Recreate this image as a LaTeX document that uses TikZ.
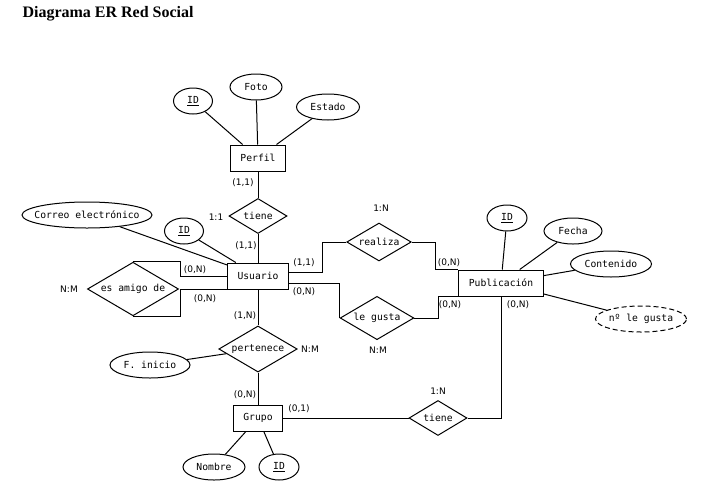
\documentclass[tikz,border=0pt]{standalone}
\usepackage{fontspec}
\setmainfont{Liberation Serif}
\setmonofont{DejaVu Sans Mono}
\newfontfamily\cardfont{DejaVu Sans}
\usetikzlibrary{shapes.geometric,calc}

\begin{document}
\begin{tikzpicture}[x=1pt,y=-1pt,line width=1pt,
  entity/.style={draw,rectangle,inner xsep=10pt,minimum height=26pt,
    font=\ttfamily\fontsize{9.7}{11}\selectfont},
  relation/.style={draw,diamond,aspect=1.7,inner sep=2pt,minimum width=58pt,minimum height=35pt,
    font=\ttfamily\fontsize{9.7}{11}\selectfont},
  attr/.style={draw,ellipse,inner sep=0pt,minimum height=26pt,minimum width=#1pt,
    font=\ttfamily\fontsize{9.7}{11}\selectfont},
  card/.style={inner sep=0pt,font=\cardfont\fontsize{9}{10}\selectfont}]
\useasboundingbox (0,0) rectangle (719,501);
\node[anchor=base west,inner sep=0pt,font=\bfseries\fontsize{16}{18}\selectfont] (title) at (22,17) {Diagrama ER Red Social};

% entities
\node[entity] (perfil) at (258,158) {Perfil};
\node[entity] (usuario) at (258,276) {Usuario};
\node[entity] (publicacion) at (501,283) {Publicación};
\node[entity] (grupo) at (258,418) {Grupo};

% relationships
\node[relation] (tiene) at (258,216) {tiene};
\node[relation] (realiza) at (379,242) {realiza};
\node[relation] (legusta) at (377,318) {le gusta};
\node[relation] (amigo) at (133,289) {es amigo de};
\node[relation] (pertenece) at (258,349) {pertenece};
\node[relation] (tienegrupo) at (438,418) {tiene};

% attributes
\node[attr=39] (idperfil) at (193,101) {\underline{ID}};
\node[attr=52] (foto) at (256,87) {Foto};
\node[attr=63] (estado) at (328,107) {Estado};
\node[attr=130,inner xsep=-8pt] (correo) at (87,215) {Correo electrónico};
\node[attr=39] (idusuario) at (184,231) {\underline{ID}};
\node[attr=40] (idpub) at (507,218) {\underline{ID}};
\node[attr=58] (fecha) at (573,231) {Fecha};
\node[attr=81] (contenido) at (611,264) {Contenido};
\node[attr=91,dash pattern=on 5pt off 3pt] (numlikes) at (641,319) {nº le gusta};
\node[attr=80] (inicio) at (150,365) {F. inicio};
\node[attr=62] (nombre) at (214,467) {Nombre};
\node[attr=40] (idgrupo) at (279,467) {\underline{ID}};

% attribute lines
\draw (perfil) -- (idperfil);
\draw (perfil) -- (foto);
\draw (perfil) -- (estado);
\draw (usuario) -- (correo);
\draw (usuario) -- (idusuario);
\draw (publicacion) -- (idpub);
\draw (publicacion) -- (fecha);
\draw (publicacion) -- (contenido);
\draw (publicacion) -- (numlikes);
\draw (pertenece) -- (inicio);
\draw (grupo) -- (nombre);
\draw (grupo) -- (idgrupo);

% relationship lines
\draw (perfil) -- (tiene) -- (usuario);
\draw (usuario) -- (pertenece) -- (grupo);
\draw ($(usuario.east)+(0,-4)$) -- ++(34,0) |- (realiza.west);
\draw (realiza.east) -- ++(24,0) |- (publicacion.north west);
\draw ($(usuario.east)+(0,7)$) -| (legusta.west);
\draw (legusta.east) -- ++(24,0) |- (publicacion.south west);
\draw (usuario.west) -- ++(-47,0) |- (amigo.north);
\draw (usuario.south west) -- ++(-47,0) |- (amigo.south);
\draw (grupo) -- (tienegrupo);
\draw (tienegrupo.east) -| (publicacion.south);

% cardinalities
\node[card] (c1) at (243,183) {(1,1)};
\node[card] (c2) at (216,217) {1:1};
\node[card] (c3) at (246,246) {(1,1)};
\node[card] (c4) at (195,270) {(0,N)};
\node[card] (c5) at (205,299) {(0,N)};
\node[card] (c6) at (69,289) {N:M};
\node[card] (c7) at (304,263) {(1,1)};
\node[card] (c8) at (304,292) {(0,N)};
\node[card] (c9) at (245,316) {(1,N)};
\node[card] (c10) at (381,208) {1:N};
\node[card] (c11) at (449,263) {(0,N)};
\node[card] (c12) at (450,305) {(0,N)};
\node[card] (c13) at (518,305) {(0,N)};
\node[card] (c14) at (378,350) {N:M};
\node[card] (c15) at (310,349) {N:M};
\node[card] (c16) at (245,395) {(0,N)};
\node[card] (c17) at (299,409) {(0,1)};
\node[card] (c18) at (438,391) {1:N};
\end{tikzpicture}
\end{document}
